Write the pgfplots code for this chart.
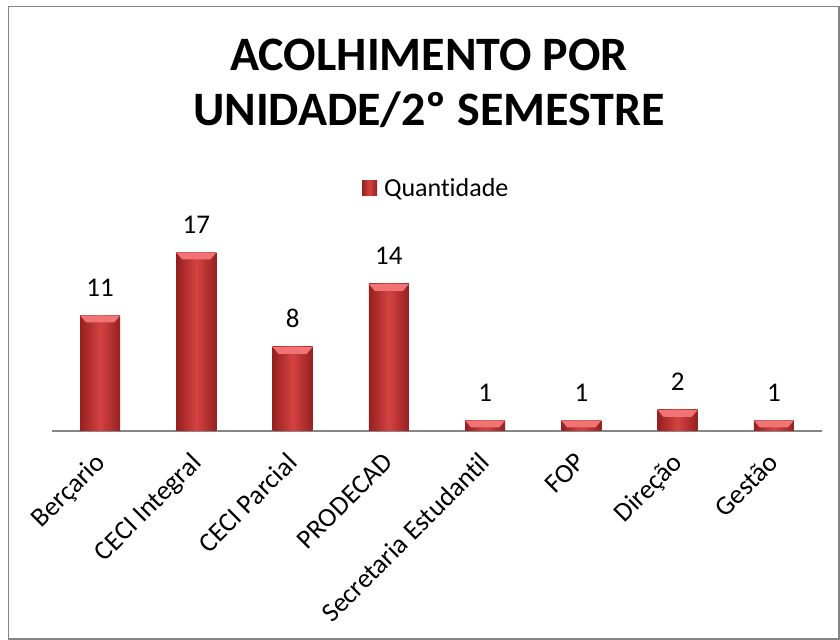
\documentclass[border=0pt]{standalone}
\usepackage{fontspec}
\setmainfont{Carlito}[Ligatures={NoCommon}]
\usepackage{pgfplots}
\pgfplotsset{compat=1.18}
\definecolor{barmid}{RGB}{212,66,66}
\definecolor{baredge}{RGB}{150,32,32}
\definecolor{bartop}{RGB}{240,116,116}
\definecolor{bordergray}{RGB}{134,134,134}
\pgfdeclareplotmark{bevtop}{%
  \pgfpathmoveto{\pgfqpoint{-20bp}{0bp}}%
  \pgfpathlineto{\pgfqpoint{20bp}{0bp}}%
  \pgfpathlineto{\pgfqpoint{14bp}{-7bp}}%
  \pgfpathlineto{\pgfqpoint{-14bp}{-7bp}}%
  \pgfpathclose\pgfusepathqfill}
\pgfplotsset{
  mybar/.style={ybar, bar width=40bp, bar shift=0pt, draw=none,
    left color=baredge, right color=baredge, middle color=barmid,
    nodes near coords,
    nodes near coords style={font=\fontsize{27bp}{32bp}\selectfont, text=black, anchor=south, inner sep=0pt, yshift=19bp}},
}
\begin{document}
\begin{tikzpicture}[x=1bp,y=1bp]
\useasboundingbox (0,0) rectangle (840,640);
\draw[bordergray, line width=1.5bp] (8.5,1) rectangle (839,633.5);
\node[anchor=base, font=\fontsize{48bp}{56bp}\selectfont\bfseries] at (429,569) {ACOLHIMENTO POR};
\node[anchor=base, font=\fontsize{48bp}{56bp}\selectfont\bfseries] at (429,514) {UNIDADE/2º SEMESTRE};
\begin{axis}[
  at={(52bp,209bp)}, anchor=south west,
  scale only axis, width=770bp, height=210bp,
  xmin=-0.5, xmax=7.5, ymin=0, ymax=20,
  axis x line*=bottom, axis y line=none,
  x axis line style={bordergray, line width=1.5bp, -},
  xtick={0,1,2,3,4,5,6,7},
  xticklabels={Berçario, CECI Integral, CECI Parcial, PRODECAD, Secretaria Estudantil, FOP, Direção, Gestão},
  major tick length=0pt,
  /pgf/number format/assume math mode=true,
  xticklabel style={font=\fontsize{27bp}{32bp}\selectfont, inner sep=0pt, xshift=-7bp, yshift=-20bp, rotate=45, anchor=north east},
  legend style={at={(0.499,1.157)}, anchor=center, draw=none, fill=none, font=\fontsize{26bp}{31bp}\selectfont},
  legend image code/.code={\fill[barmid] (0bp,-7.5bp) rectangle (15bp,7.5bp); \path (0bp,0bp) -- (20bp,0bp);},
  clip=false,
]
\addplot[mybar] coordinates {(0,11)};
\legend{Quantidade}
\addplot[mybar, forget plot] coordinates {(1,17)};
\addplot[mybar, forget plot] coordinates {(2,8)};
\addplot[mybar, forget plot] coordinates {(3,14)};
\addplot[mybar, forget plot] coordinates {(4,1)};
\addplot[mybar, forget plot] coordinates {(5,1)};
\addplot[mybar, forget plot] coordinates {(6,2)};
\addplot[mybar, forget plot] coordinates {(7,1)};
\addplot[only marks, mark=bevtop, mark options={fill=bartop, draw=none}, forget plot]
  coordinates {(0,11) (1,17) (2,8) (3,14) (4,1) (5,1) (6,2) (7,1)};
\end{axis}
\end{tikzpicture}
\end{document}
